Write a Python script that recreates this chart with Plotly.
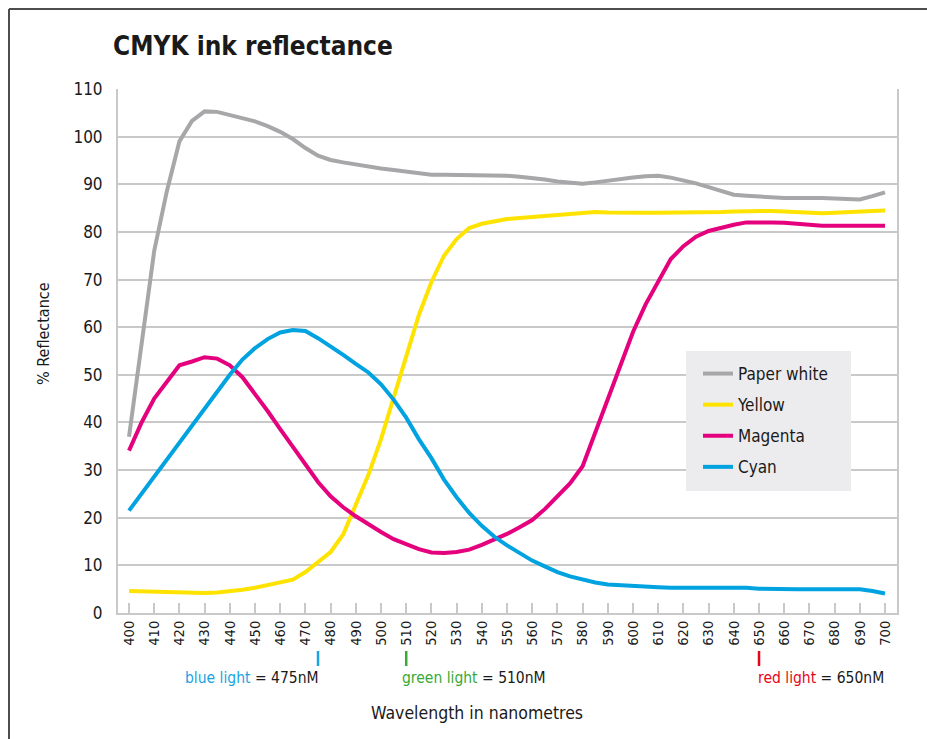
import plotly.graph_objects as go

# Wavelength samples (nm), 5 nm steps
WAVELENGTH = list(range(400, 701, 5))

PAPER_WHITE = [
    37.0, 57.0, 76.0, 88.5, 99.0, 103.3, 105.3, 105.2, 104.6, 104.0,
    103.2, 102.2, 101.0, 99.5, 97.6, 96.0, 95.1, 94.6, 94.1, 93.7,
    93.3, 93.0, 92.6, 92.3, 92.0, 92.0, 92.0, 92.0, 91.9, 91.8,
    91.8, 91.6, 91.4, 91.0, 90.6, 90.3, 90.1, 90.4, 90.8, 91.1,
    91.4, 91.7, 91.8, 91.4, 90.9, 90.2, 89.4, 88.6, 87.8, 87.6,
    87.4, 87.1, 87.1, 87.1, 87.2, 87.1, 87.0, 86.9, 86.8, 87.5,
    88.3,
]
YELLOW = [
    4.6, 4.5, 4.4, 4.3, 4.3, 4.3, 4.2, 4.3, 4.5, 4.9,
    5.3, 5.8, 6.3, 7.0, 8.6, 10.6, 12.8, 16.5, 22.5, 29.0,
    36.5, 45.0, 54.0, 62.5, 69.5, 75.0, 78.5, 80.8, 81.7, 82.3,
    82.7, 82.9, 83.1, 83.4, 83.7, 83.9, 84.1, 84.2, 84.1, 84.0,
    84.0, 84.0, 84.0, 84.0, 84.0, 84.0, 84.1, 84.2, 84.3, 84.4,
    84.5, 84.4, 84.3, 84.1, 83.9, 83.9, 84.0, 84.2, 84.3, 84.4,
    84.5,
]
MAGENTA = [
    34.1, 40.0, 45.0, 48.5, 52.0, 52.8, 53.7, 53.4, 52.0, 49.5,
    46.0, 42.4, 38.6, 34.8, 31.0, 27.5, 24.5, 22.2, 20.3, 18.6,
    17.0, 15.5, 14.4, 13.4, 12.7, 12.6, 12.8, 13.3, 14.3, 15.4,
    16.6, 18.0, 19.5, 21.8, 24.5, 27.2, 30.8, 37.8, 45.0, 52.0,
    59.0, 64.8, 69.5, 74.3, 77.0, 79.0, 80.2, 80.9, 81.5, 82.0,
    82.1, 82.0, 81.9, 81.7, 81.4, 81.3, 81.3, 81.3, 81.3, 81.3,
    81.3,
]
CYAN = [
    21.5, 25.1, 28.7, 32.2, 35.8, 39.4, 42.9, 46.5, 50.0, 53.2,
    55.6, 57.5, 58.9, 59.4, 59.2, 57.7, 56.0, 54.2, 52.3, 50.5,
    48.0, 44.8, 41.0, 36.5, 32.5, 28.0, 24.3, 21.0, 18.3, 16.0,
    14.2, 12.5, 11.0, 9.8, 8.6, 7.7, 7.0, 6.4, 6.0, 5.8,
    5.7, 5.5, 5.4, 5.3, 5.3, 5.2, 5.2, 5.2, 5.4, 5.3,
    5.1, 5.0, 5.0, 5.0, 5.0, 5.0, 5.0, 5.0, 5.0, 4.6,
    4.1,
]

SERIES_NAMES = ["Paper white", "Yellow", "Magenta", "Cyan"]
SERIES_COLORS = ["#a7a7aa", "#ffe300", "#e5007d", "#00a3e0"]

X_TICKS = list(range(400, 701, 10))
Y_TICKS = list(range(0, 111, 10))

# Reference wavelengths of the light primaries
LIGHT_NAMES = ["blue light", "green light", "red light"]
LIGHT_NM = [475, 510, 650]
LIGHT_COLORS = ["#1aa3e3", "#3aa935", "#e4061b"]

FONT = "Liberation Sans Narrow, DejaVu Sans Condensed, Arial Narrow, sans-serif"
INK = "#1a1a1a"
GRID = "#c9c9c9"

W, H = 927, 739
M_L, M_R, M_T, M_B = 118, 30, 89, 126
PW, PH = W - M_L - M_R, H - M_T - M_B


def px_x(px):
    return (px - M_L) / PW


def px_y(py):
    return (H - M_B - py) / PH


fig = go.Figure()
for i, (name, vals, col) in enumerate(zip(SERIES_NAMES, [PAPER_WHITE, YELLOW, MAGENTA, CYAN], SERIES_COLORS)):
    fig.add_trace(go.Scatter(
        x=WAVELENGTH, y=vals, name=name, mode="lines",
        line=dict(color=col, width=4),
        legendgroup=f"g{i}", hoverinfo="skip",
    ))

shapes = []
# outer frame (top and left edges)
shapes.append(dict(type="line", xref="paper", yref="paper",
                   x0=px_x(9), x1=px_x(9), y0=px_y(760), y1=px_y(9),
                   line=dict(color="#4d4d4d", width=2)))
shapes.append(dict(type="line", xref="paper", yref="paper",
                   x0=px_x(9), x1=px_x(940), y0=px_y(9), y1=px_y(9),
                   line=dict(color="#4d4d4d", width=2)))
# legend panel
shapes.append(dict(type="rect", xref="paper", yref="paper",
                   x0=px_x(686), x1=px_x(851), y0=px_y(491), y1=px_y(351),
                   fillcolor="#ececee", line=dict(width=0), layer="above"))

annotations = []
for name, nm, col in zip(LIGHT_NAMES, LIGHT_NM, LIGHT_COLORS):
    shapes.append(dict(type="line", xref="x", yref="paper",
                       x0=nm, x1=nm, y0=px_y(666), y1=px_y(651),
                       line=dict(color=col, width=2.5)))
    text = f'<span style="color:{col}">{name}</span> = {nm}nM'
    if nm == 475:
        anchor, shift = "right", 3
    elif nm == 510:
        anchor, shift = "left", -6
    else:
        anchor, shift = "left", -3
    annotations.append(dict(x=nm, xref="x", y=px_y(678), yref="paper",
                            text=text, showarrow=False, xanchor=anchor,
                            yanchor="middle", xshift=shift,
                            font=dict(family=FONT, size=15.5, color=INK)))

annotations.append(dict(x=px_x(477), xref="paper", y=px_y(713), yref="paper",
                        text="Wavelength in nanometres", showarrow=False,
                        xanchor="center", yanchor="middle",
                        font=dict(family=FONT, size=17.5, color=INK)))
annotations.append(dict(x=px_x(43), xref="paper", y=px_y(334), yref="paper",
                        text="% Reflectance", showarrow=False, textangle=-90,
                        xanchor="center", yanchor="middle",
                        font=dict(family=FONT, size=16, color=INK)))

fig.update_layout(
    width=W, height=H,
    margin=dict(l=M_L, r=M_R, t=M_T, b=M_B),
    paper_bgcolor="white", plot_bgcolor="white",
    title=dict(text="<b>CMYK ink reflectance</b>", x=113 / W, xanchor="left",
               y=1 - 46 / H, yanchor="middle",
               font=dict(family=FONT, size=26, color=INK)),
    xaxis=dict(range=[395.63, 704.76], tickvals=X_TICKS, ticktext=[str(v) for v in X_TICKS],
               tickangle=-90, ticks="inside", ticklen=10, tickwidth=1.5, tickcolor=GRID,
               showgrid=False, zeroline=False, showline=True, linecolor=GRID, linewidth=2,
               tickfont=dict(family=FONT, size=14.5, color=INK), fixedrange=True),
    yaxis=dict(range=[0, 110], tickvals=Y_TICKS, ticks="", showgrid=True,
               gridcolor=GRID, gridwidth=2, zeroline=False, showline=True,
               linecolor=GRID, linewidth=2, mirror=True, ticklabelstandoff=10,
               tickfont=dict(family=FONT, size=17, color=INK), fixedrange=True),
    legend=dict(x=px_x(698), y=px_y(356), xanchor="left", yanchor="top",
                bgcolor="rgba(0,0,0,0)", borderwidth=0, traceorder="grouped",
                tracegroupgap=6, itemwidth=30,
                font=dict(family=FONT, size=17, color=INK)),
    shapes=shapes, annotations=annotations,
    showlegend=True,
)

fig.write_html("out.html")
